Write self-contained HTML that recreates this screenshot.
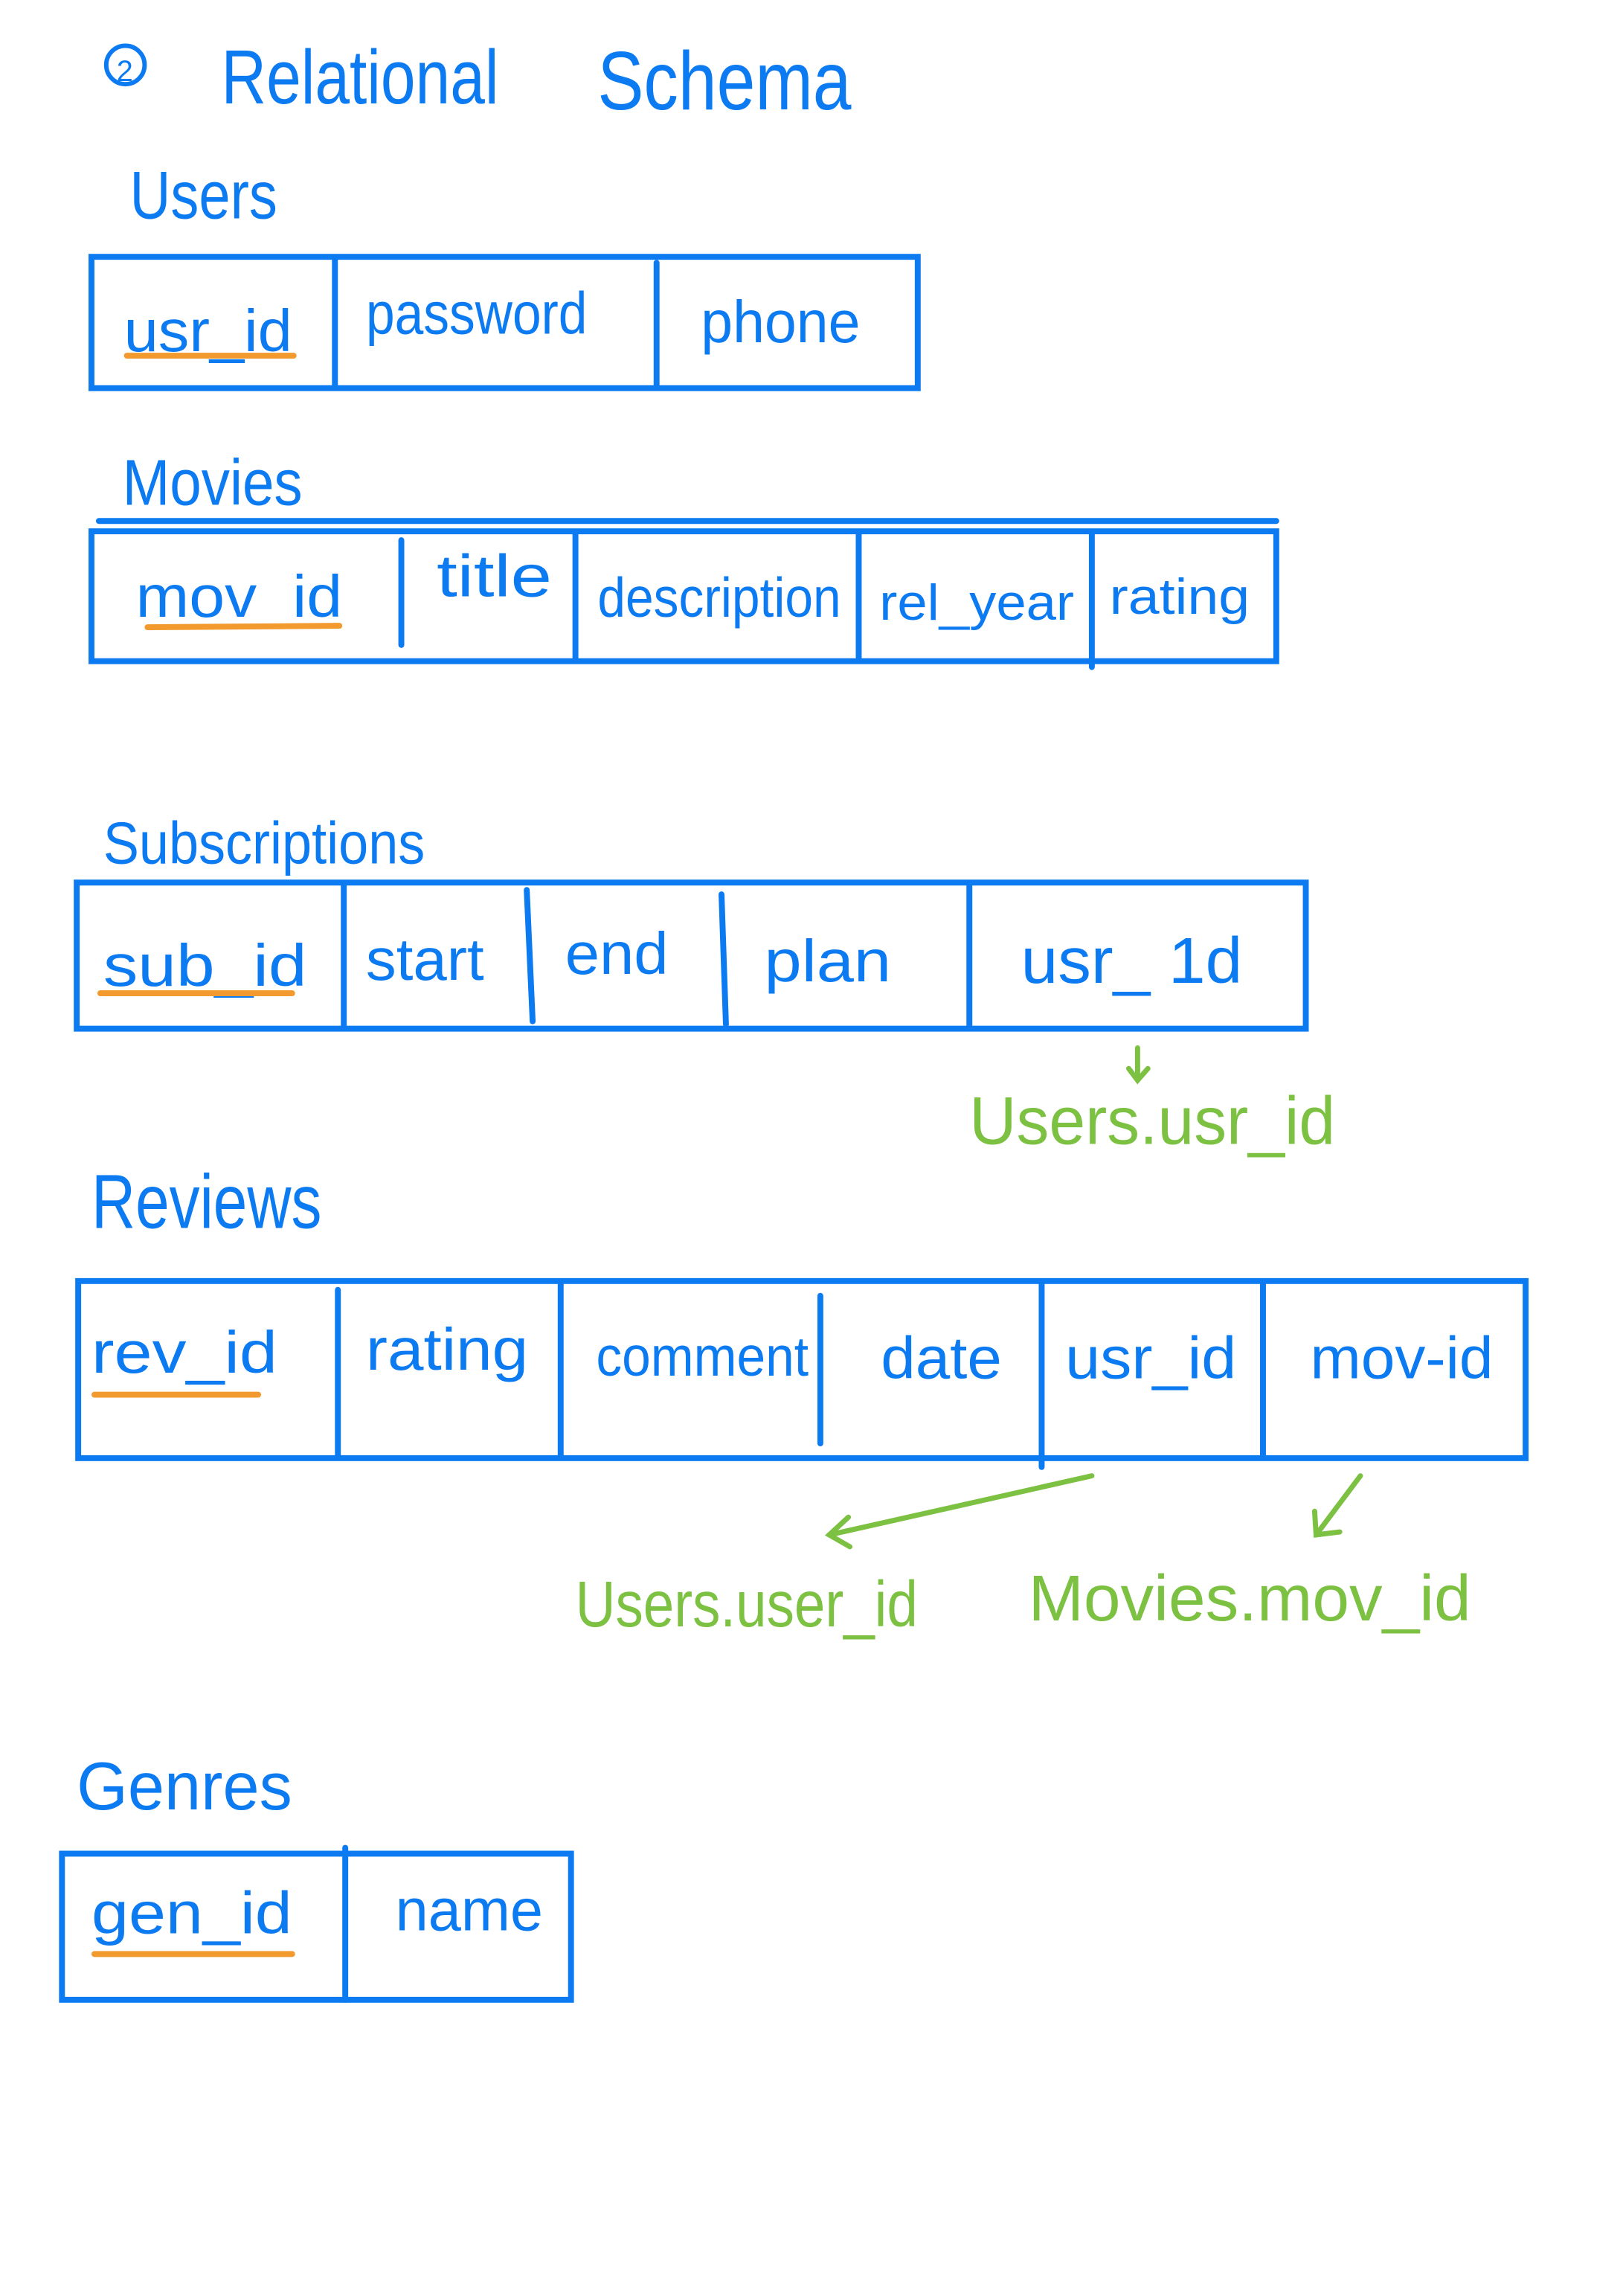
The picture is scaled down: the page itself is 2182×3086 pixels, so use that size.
<!DOCTYPE html>
<html><head><meta charset="utf-8"><style>
html,body{margin:0;padding:0;background:#fff;}
svg{display:block;}
text{font-family:"Liberation Sans",sans-serif;}
</style></head><body>
<svg width="2182" height="3086" viewBox="0 0 1100 1555.7" xmlns="http://www.w3.org/2000/svg">
<g fill="none" stroke="#0c7bf2" stroke-width="4" stroke-linecap="round">
<circle cx="85" cy="44" r="13" stroke-width="3"/>
<rect x="62" y="174" width="560" height="89"/>
<line x1="227" y1="176" x2="227" y2="262"/><line x1="445" y1="178" x2="445" y2="262"/>
<line x1="67" y1="353" x2="865" y2="353"/>
<rect x="62" y="360" width="803" height="88"/>
<line x1="272" y1="366" x2="272" y2="437"/><line x1="390" y1="362" x2="390" y2="446"/>
<line x1="582" y1="362" x2="582" y2="446"/><line x1="740" y1="362" x2="740" y2="452"/>
<rect x="52" y="598" width="833" height="99"/>
<line x1="233" y1="600" x2="233" y2="695"/><line x1="357" y1="603" x2="361" y2="692"/>
<line x1="489" y1="606" x2="492" y2="694"/><line x1="657" y1="600" x2="657" y2="695"/>
<rect x="53" y="868" width="981" height="120"/>
<line x1="229" y1="874" x2="229" y2="986"/><line x1="380" y1="870" x2="380" y2="986"/>
<line x1="556" y1="878" x2="556" y2="978"/><line x1="706" y1="870" x2="706" y2="994"/>
<line x1="856" y1="870" x2="856" y2="986"/>
<rect x="42" y="1256" width="345" height="99"/>
<line x1="234" y1="1252" x2="234" y2="1355"/>
</g>
<g fill="#0c7bf2" font-size="40">
<text x="79" y="55" font-size="20">2</text>
<text x="150" y="70" font-size="52" textLength="188" lengthAdjust="spacingAndGlyphs">Relational</text>
<text x="405" y="74" font-size="56" textLength="172" lengthAdjust="spacingAndGlyphs">Schema</text>
<text x="88" y="148" font-size="46" textLength="100" lengthAdjust="spacingAndGlyphs">Users</text>
<text x="84" y="238" textLength="114" lengthAdjust="spacingAndGlyphs">usr_id</text>
<text x="248" y="226" textLength="150" lengthAdjust="spacingAndGlyphs">password</text>
<text x="475" y="232" textLength="108" lengthAdjust="spacingAndGlyphs">phone</text>
<text x="83" y="342" font-size="44" textLength="122" lengthAdjust="spacingAndGlyphs">Movies</text>
<text x="92" y="418" textLength="140" lengthAdjust="spacingAndGlyphs">mov_id</text>
<text x="296" y="404" textLength="78" lengthAdjust="spacingAndGlyphs">title</text>
<text x="405" y="418" font-size="38" textLength="165" lengthAdjust="spacingAndGlyphs">description</text>
<text x="596" y="420" font-size="34" textLength="132" lengthAdjust="spacingAndGlyphs">rel_year</text>
<text x="752" y="416" font-size="34" textLength="95" lengthAdjust="spacingAndGlyphs">rating</text>
<text x="70" y="585" font-size="40" textLength="218" lengthAdjust="spacingAndGlyphs">Subscriptions</text>
<text x="70" y="668" textLength="138" lengthAdjust="spacingAndGlyphs">sub_id</text>
<text x="248" y="664" textLength="80" lengthAdjust="spacingAndGlyphs">start</text>
<text x="383" y="660" textLength="70" lengthAdjust="spacingAndGlyphs">end</text>
<text x="518" y="665" textLength="86" lengthAdjust="spacingAndGlyphs">plan</text>
<text x="692" y="666" font-size="44" textLength="150" lengthAdjust="spacingAndGlyphs">usr_ 1d</text>
<text x="62" y="832" font-size="52" textLength="156" lengthAdjust="spacingAndGlyphs">Reviews</text>
<text x="62" y="930" textLength="126" lengthAdjust="spacingAndGlyphs">rev_id</text>
<text x="248" y="928" textLength="110" lengthAdjust="spacingAndGlyphs">rating</text>
<text x="404" y="932" font-size="38" textLength="144" lengthAdjust="spacingAndGlyphs">comment</text>
<text x="597" y="934" textLength="82" lengthAdjust="spacingAndGlyphs">date</text>
<text x="722" y="934" textLength="116" lengthAdjust="spacingAndGlyphs">usr_id</text>
<text x="888" y="934" textLength="124" lengthAdjust="spacingAndGlyphs">mov-id</text>
<text x="52" y="1226" font-size="46" textLength="146" lengthAdjust="spacingAndGlyphs">Genres</text>
<text x="62" y="1310" textLength="136" lengthAdjust="spacingAndGlyphs">gen_id</text>
<text x="268" y="1308" textLength="100" lengthAdjust="spacingAndGlyphs">name</text>
</g>
<g stroke="#f29a2e" stroke-width="4" stroke-linecap="round">
<line x1="86" y1="241" x2="199" y2="241"/>
<line x1="100" y1="425" x2="230" y2="424"/>
<line x1="68" y1="673" x2="198" y2="673"/>
<line x1="64" y1="945" x2="175" y2="945"/>
<line x1="64" y1="1324" x2="198" y2="1324"/>
</g>
<g stroke="#7cc142" stroke-width="3.5" fill="none" stroke-linecap="round">
<line x1="771" y1="710" x2="771" y2="731"/><polyline points="765,724 771,732 778,724"/>
<line x1="740" y1="1000" x2="562" y2="1040"/><polyline points="575,1028 562,1040 576,1048"/>
<line x1="922" y1="1000" x2="892" y2="1040"/><polyline points="891,1024 892,1040 908,1038"/>
</g>
<g fill="#7cc142" font-size="46">
<text x="657" y="775" textLength="248" lengthAdjust="spacingAndGlyphs">Users.usr_id</text>
<text x="390" y="1102" font-size="44" textLength="232" lengthAdjust="spacingAndGlyphs">Users.user_id</text>
<text x="697" y="1098" font-size="44" textLength="300" lengthAdjust="spacingAndGlyphs">Movies.mov_id</text>
</g>
</svg>
</body></html>
